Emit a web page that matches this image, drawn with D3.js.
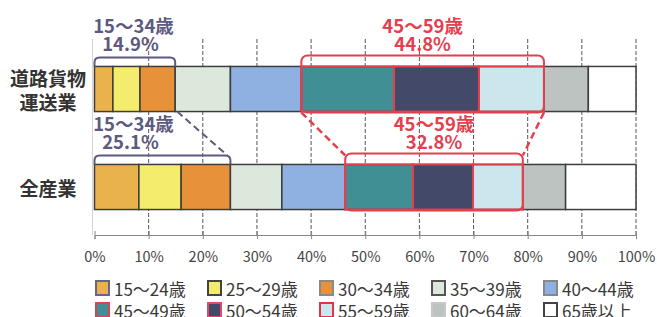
<!DOCTYPE html>
<html>
<head>
<meta charset="utf-8">
<script src="https://cdn.jsdelivr.net/npm/d3@7"></script>
<style>
  body { margin: 0; background: #fff; }
  text { font-family: "Noto Sans CJK JP", "Noto Sans", sans-serif; }
</style>
</head>
<body>
<div class="graphic"></div>
<script>
var width = 657;
var height = 317;

// data
var categories = ["道路貨物運送業", "全産業"];
var categoryLines = [["道路貨物", "運送業"], ["全産業"]];
var ageGroups = ["15〜24歳", "25〜29歳", "30〜34歳", "35〜39歳", "40〜44歳",
                 "45〜49歳", "50〜54歳", "55〜59歳", "60〜64歳", "65歳以上"];
var truckValues = [3.4, 5.0, 6.5, 10.2, 13.1, 17.1, 15.7, 12.0, 8.2, 8.8];
var allValues = [8.2, 7.8, 9.1, 9.5, 11.7, 12.5, 11.1, 9.2, 7.9, 13.0];
var youngShare = [14.9, 25.1];   // 15〜34歳
var middleShare = [44.8, 32.8];  // 45〜59歳
var tickValues = [0, 10, 20, 30, 40, 50, 60, 70, 80, 90, 100];

var colors = ["#e9b24c", "#f3ec6c", "#e8913b", "#dde8dc", "#8fb1e2",
              "#3f8f94", "#434a69", "#cbe6ec", "#bcc3c1", "#ffffff"];
var legendBorders = ["#66648c", "#444444", "#8a8a8a", "#555555", "#888888",
                     "#e0404f", "#e04a66", "#e8323f", "#c8c8c8", "#444444"];
var youngColor = "#5c5a7e";
var redColor = "#e3404f";

var svg = d3.select("div.graphic").append("svg")
	.attr("width", width)
	.attr("height", height);

var x = d3.scaleLinear().domain([0, 100]).range([94.5, 636]);
var y = d3.scaleBand().domain(categories).range([40, 236])
	.paddingInner(0.54).paddingOuter(0.27);

// grid lines
svg.append("g").selectAll("line")
	.data(tickValues.slice(1))
	.enter()
	.append("line")
	.attr("x1", function(d){ return x(d); })
	.attr("x2", function(d){ return x(d); })
	.attr("y1", 39)
	.attr("y2", 235)
	.attr("stroke", "#555")
	.attr("stroke-width", 1)
	.attr("stroke-dasharray", "4,2");

svg.append("line")
	.attr("x1", x(0) - 2).attr("x2", x(0) - 2)
	.attr("y1", 39).attr("y2", 235)
	.attr("stroke", "#d4d4d4");

// axis
var axis = svg.append("g")
	.attr("transform", "translate(0,235)")
	.call(d3.axisBottom(x)
		.tickValues(tickValues)
		.tickFormat(function(d){ return d + "%"; })
		.tickSize(4)
		.tickPadding(13));
axis.select(".domain").attr("stroke", "#888");
axis.selectAll(".tick line").attr("stroke", "#888").attr("y1", -4);
axis.selectAll("text")
	.attr("fill", "#444")
	.style("font-family", "'Noto Sans CJK JP', sans-serif")
	.style("font-size", "14.5px");

var seriesValues = [truckValues, allValues];

function cumulate(values){
	var out = [0];
	values.forEach(function(v){ out.push(out[out.length - 1] + v); });
	return out;
}

var stacks = seriesValues.map(function(values, i){
	var cum = cumulate(values);
	return values.map(function(v, j){
		return {cat: categories[i], index: j, x0: cum[j], x1: cum[j + 1]};
	});
});

// bars
var bars = svg.append("g");
stacks.forEach(function(stack){
	bars.append("g").selectAll("rect")
		.data(stack)
		.enter()
		.append("rect")
		.attr("x", function(d){ return x(d.x0); })
		.attr("y", function(d){ return y(d.cat); })
		.attr("width", function(d){ return x(d.x1) - x(d.x0); })
		.attr("height", y.bandwidth())
		.attr("fill", function(d){ return colors[d.index]; })
		.attr("stroke", "#3d3d3d")
		.attr("stroke-width", 1.5);
	bars.append("g").selectAll("rect")
		.data(stack.filter(function(d){ return d.index >= 5 && d.index <= 7; }))
		.enter()
		.append("rect")
		.attr("x", function(d){ return x(d.x0); })
		.attr("y", function(d){ return y(d.cat); })
		.attr("width", function(d){ return x(d.x1) - x(d.x0); })
		.attr("height", y.bandwidth())
		.attr("fill", "none")
		.attr("stroke", redColor)
		.attr("stroke-width", 2);
});

function bracketPath(x0, x1, top, bottom, r){
	return "M" + x0 + "," + bottom +
		"L" + x0 + "," + (top + r) +
		"Q" + x0 + "," + top + " " + (x0 + r) + "," + top +
		"L" + (x1 - r) + "," + top +
		"Q" + x1 + "," + top + " " + x1 + "," + (top + r) +
		"L" + x1 + "," + bottom;
}

var notes = svg.append("g");
var boxes = stacks.map(function(stack){
	var barTop = y(stack[0].cat);
	return {
		barTop: barTop,
		barBottom: barTop + y.bandwidth(),
		youngX0: x(stack[0].x0),
		youngX1: x(stack[2].x1),
		midX0: x(stack[5].x0),
		midX1: x(stack[7].x1)
	};
});

function note(xPos, yPos, color, label){
	notes.append("text")
		.attr("x", xPos)
		.attr("y", yPos)
		.attr("text-anchor", "middle")
		.attr("dominant-baseline", "central")
		.attr("fill", color)
		.style("font-size", "18.5px")
		.style("font-weight", "bold")
		.text(label);
}

boxes.forEach(function(b, i){
	// 15〜34 bracket
	notes.append("path")
		.attr("d", bracketPath(b.youngX0, b.youngX1, b.barTop - 9, b.barTop, 5))
		.attr("fill", "none")
		.attr("stroke", youngColor)
		.attr("stroke-width", 2);
	// 45〜59 rounded box
	notes.append("rect")
		.attr("x", b.midX0)
		.attr("y", b.barTop - 11)
		.attr("width", b.midX1 - b.midX0)
		.attr("height", b.barBottom - b.barTop + 12)
		.attr("rx", 6)
		.attr("fill", "none")
		.attr("stroke", redColor)
		.attr("stroke-width", 2);

	note(b.youngX0 + 39, b.barTop - 41, youngColor, "15〜34歳");
	note(b.youngX0 + 36, b.barTop - 23, youngColor, youngShare[i].toFixed(1) + "%");

	var mid = (b.midX0 + b.midX1) / 2;
	note(mid, b.barTop - 41, redColor, "45〜59歳");
	note(mid, b.barTop - 23, redColor, middleShare[i].toFixed(1) + "%");
});

// dashed connectors between the two bars
var t = boxes[0], u = boxes[1];
notes.append("line")
	.attr("x1", t.youngX1 + 2).attr("y1", t.barBottom)
	.attr("x2", u.youngX1 - 3).attr("y2", u.barTop - 9)
	.attr("stroke", youngColor).attr("stroke-width", 2)
	.attr("stroke-dasharray", "7,4");
notes.append("line")
	.attr("x1", t.midX0).attr("y1", t.barBottom + 1)
	.attr("x2", u.midX0).attr("y2", u.barTop - 9)
	.attr("stroke", redColor).attr("stroke-width", 2.5)
	.attr("stroke-dasharray", "7,4");
notes.append("line")
	.attr("x1", t.midX1).attr("y1", t.barBottom + 1)
	.attr("x2", u.midX1).attr("y2", u.barTop - 9)
	.attr("stroke", redColor).attr("stroke-width", 2.5)
	.attr("stroke-dasharray", "7,4");

// category labels
categoryLines.forEach(function(lines, i){
	var cy = y(categories[i]) + y.bandwidth() / 2;
	svg.append("text")
		.attr("x", 48)
		.attr("text-anchor", "middle")
		.attr("fill", "#333")
		.style("font-size", "19px")
		.style("font-weight", "bold")
		.selectAll("tspan")
		.data(lines)
		.enter()
		.append("tspan")
		.attr("x", 48)
		.attr("y", function(d, j){ return cy + (j - (lines.length - 1) / 2) * 24; })
		.attr("dominant-baseline", "central")
		.text(function(d){ return d; });
});

// legend
var legend = svg.append("g").selectAll("g")
	.data(ageGroups)
	.enter()
	.append("g")
	.attr("transform", function(d, i){
		return "translate(" + (95 + (i % 5) * 112) + "," + (288 + Math.floor(i / 5) * 22) + ")";
	});
legend.append("rect")
	.attr("x", 1).attr("y", -7)
	.attr("width", 13).attr("height", 14)
	.attr("fill", function(d, i){ return colors[i]; })
	.attr("stroke", function(d, i){ return legendBorders[i]; })
	.attr("stroke-width", 2);
legend.append("text")
	.attr("x", 19)
	.attr("y", 0)
	.attr("dominant-baseline", "central")
	.attr("fill", "#3a3a3a")
	.style("font-size", "17px")
	.text(function(d){ return d; });
</script>
</body>
</html>
